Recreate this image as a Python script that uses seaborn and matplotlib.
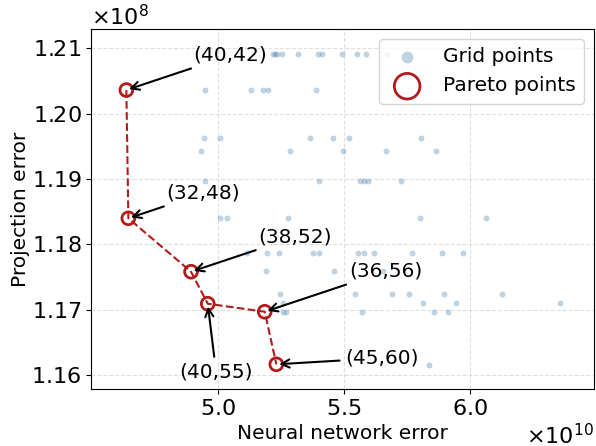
import numpy as np
import pandas as pd
import matplotlib
matplotlib.use("Agg")
import matplotlib.pyplot as plt
import seaborn as sns

NN_UNIT = 1e10    # neural network error unit
PROJ_UNIT = 1e8   # projection error unit

# Grid points: projection error levels (x1e8) and the NN errors (x1e10) found at each level
row_proj = [1.20913, 1.20361, 1.19626, 1.19435, 1.18968, 1.18397,
            1.17861, 1.17585, 1.17237, 1.17095, 1.16962, 1.16155]
row_nn = [
    [5.2166, 5.2245, 5.2332, 5.2553, 5.3183, 5.3975, 5.4105, 5.4929, 5.5503, 5.5855, 5.6698],
    [4.9505, 5.1314, 5.1801, 5.1968, 5.3876],
    [4.9454, 5.0075, 5.3662, 5.4549, 5.5194, 5.8064],
    [4.9323, 5.2858, 5.4968, 5.6671, 5.8626],
    [4.9493, 5.4006, 5.5610, 5.5768, 5.5946, 5.7241],
    [5.0087, 5.0376, 5.2759, 5.7985, 6.0618],
    [5.1144, 5.1948, 5.2423, 5.3777, 5.4006, 5.5542, 5.5788, 5.6172, 5.7676, 5.8856, 5.9695],
    [5.1896, 5.4612, 5.6528],
    [5.2443, 5.5443, 5.6884, 5.7557, 5.8967, 6.1243],
    [5.2593, 5.8124, 5.9438, 6.3559],
    [5.2581, 5.2712, 5.5717, 5.8567, 5.9125],
    [5.8349],
]

# Pareto points
pareto_labels = ["(40,42)", "(32,48)", "(38,52)", "(40,55)", "(36,56)", "(45,60)"]
pareto_nn = [4.6378, 4.6457, 4.8939, 4.9600, 5.1857, 5.2316]
pareto_proj = [1.20361, 1.18397, 1.17579, 1.17089, 1.16966, 1.16161]

grid_x, grid_y = [], []
for p, xs in zip(row_proj, row_nn):
    for v in xs:
        grid_x.append(v * NN_UNIT)
        grid_y.append(p * PROJ_UNIT)
grid_df = pd.DataFrame({"nn": grid_x, "proj": grid_y})
par_df = pd.DataFrame({"nn": np.array(pareto_nn) * NN_UNIT,
                       "proj": np.array(pareto_proj) * PROJ_UNIT,
                       "label": pareto_labels})

fig, ax = plt.subplots(figsize=(5.96, 4.46), dpi=100)
fig.subplots_adjust(left=0.1532, right=0.9971, top=0.9343, bottom=0.1278)

red = "#b31b1b"
sns.scatterplot(data=grid_df, x="nn", y="proj", color="steelblue", alpha=0.35,
                s=18, linewidth=0, label="Grid points", ax=ax, zorder=2)
sns.lineplot(data=par_df, x="nn", y="proj", sort=False, color=red,
             linestyle="--", linewidth=1.5, ax=ax, zorder=3, legend=False)
sns.scatterplot(data=par_df, x="nn", y="proj", s=85, facecolor="none",
                edgecolor=red, linewidth=2, label="Pareto points", ax=ax, zorder=4)

# text offsets (points) in the same order as pareto_labels
offsets = [(75, 25), (54, 18), (75, 25), (6, -49), (87, 29), (76, 4.5)]
for (_, r), off in zip(par_df.iterrows(), offsets):
    ax.annotate(r["label"], xy=(r["nn"], r["proj"]), xytext=off,
                textcoords="offset points", ha="center", va="center", fontsize=14.5,
                arrowprops=dict(arrowstyle="->", color="black", lw=1.5), zorder=5)

ax.set_xlim(4.499e10, 6.4905e10)
ax.set_ylim(1.15783e8, 1.21291e8)
ax.set_xticks([5.0e10, 5.5e10, 6.0e10])
ax.set_yticks([1.16e8, 1.17e8, 1.18e8, 1.19e8, 1.20e8, 1.21e8])
ax.ticklabel_format(style="sci", useMathText=True)
ax.tick_params(labelsize=16)
ax.xaxis.get_offset_text().set_fontsize(16)
ax.yaxis.get_offset_text().set_fontsize(16)
ax.grid(True, linestyle="--", color="#cccccc", alpha=0.6, linewidth=0.8)
ax.set_axisbelow(True)
ax.set_xlabel("Neural network error", fontsize=14.5)
ax.set_ylabel("Projection error", fontsize=14.5, labelpad=1)
ax.legend(loc="upper right", fontsize=14.5, markerscale=2)

fig.savefig("out.png", dpi=100)
